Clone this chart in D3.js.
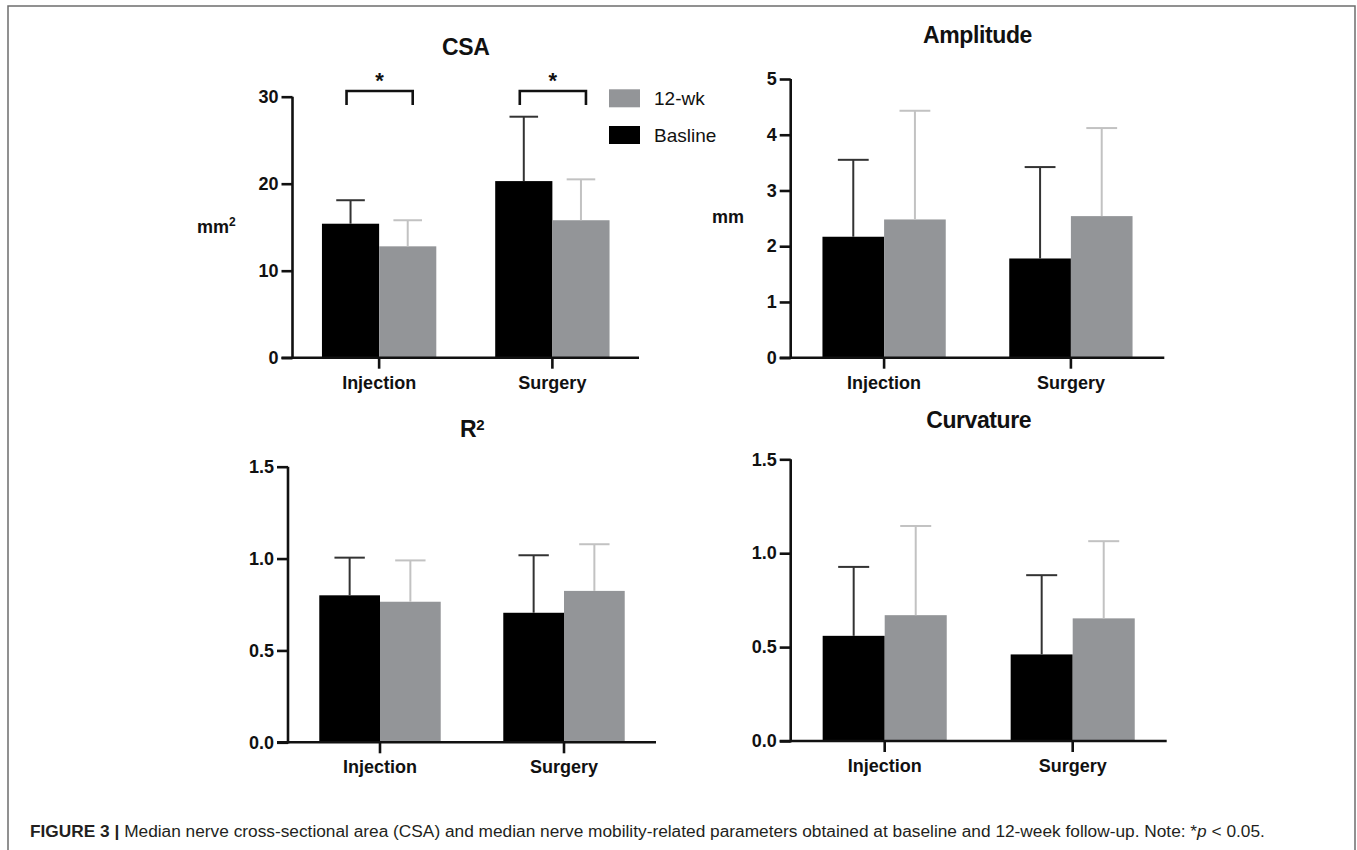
<!DOCTYPE html>
<html>
<head>
<meta charset="utf-8">
<script src="https://cdn.jsdelivr.net/npm/d3@7"></script>
<style>
  body { margin: 0; background: #fff; }
  svg { display: block; }
  text { font-family: "Liberation Sans", Arial, Helvetica, sans-serif; }
</style>
</head>
<body>
<svg width="1357" height="850"></svg>
<script>
// groups and series
var categories = ["Injection", "Surgery"];
var series = ["Basline", "12-wk"];

// values (mean and upper SD)
var csaBase = [15.4, 20.3];
var csaBaseSD = [2.7, 7.4];
var csaWk = [12.8, 15.8];
var csaWkSD = [3.0, 4.7];

var ampBase = [2.17, 1.78];
var ampBaseSD = [1.38, 1.64];
var ampWk = [2.48, 2.54];
var ampWkSD = [1.95, 1.58];

var r2Base = [0.80, 0.705];
var r2BaseSD = [0.205, 0.313];
var r2Wk = [0.765, 0.824];
var r2WkSD = [0.225, 0.254];

var curvBase = [0.56, 0.461];
var curvBaseSD = [0.367, 0.422];
var curvWk = [0.67, 0.653];
var curvWkSD = [0.475, 0.411];

var csaTicks = [0, 10, 20, 30];
var ampTicks = [0, 1, 2, 3, 4, 5];
var unitTicks = [0, 0.5, 1.0, 1.5];

var black = "#000", grey = "#939598";
var errColor = { "Basline": "#333", "12-wk": "#c2c2c2" };
var fillColor = { "Basline": black, "12-wk": grey };

var svg = d3.select("svg");

// frame
svg.append("path")
    .attr("d", "M8,870 L8,6 L1355,6 L1355,870")
    .attr("fill", "none")
    .attr("stroke", "#6d6d6d")
    .attr("stroke-width", 1.5);

var panels = [
  { title: "CSA", base: csaBase, baseSD: csaBaseSD, wk: csaWk, wkSD: csaWkSD,
    ymax: 30, ticks: csaTicks, fmt: d3.format("d"),
    x0: 292.5, x1: 639, y0: 357.7, y1: 96.7, titleY: 55,
    unit: "mm", sup: "2", unitX: 197, unitY: 233, sig: true, legend: true },
  { title: "Amplitude", base: ampBase, baseSD: ampBaseSD, wk: ampWk, wkSD: ampWkSD,
    ymax: 5, ticks: ampTicks, fmt: d3.format("d"),
    x0: 790.7, x1: 1164.3, y0: 357.7, y1: 79, titleY: 43,
    unit: "mm", sup: null, unitX: 712, unitY: 223 },
  { title: "R", titleSup: "2", base: r2Base, baseSD: r2BaseSD, wk: r2Wk, wkSD: r2WkSD,
    ymax: 1.5, ticks: unitTicks, fmt: d3.format(".1f"),
    x0: 288, x1: 656, y0: 742.3, y1: 466.7, titleY: 437 },
  { title: "Curvature", base: curvBase, baseSD: curvBaseSD, wk: curvWk, wkSD: curvWkSD,
    ymax: 1.5, ticks: unitTicks, fmt: d3.format(".1f"),
    x0: 790.7, x1: 1166.7, y0: 741, y1: 459.3, titleY: 428 }
];

panels.forEach(function (p) {
  var g = svg.append("g");

  var x = d3.scaleBand()
      .domain(categories)
      .range([p.x0, p.x1])
      .paddingInner(0.34)
      .paddingOuter(0.17);
  var xs = d3.scaleBand()
      .domain(series)
      .range([0, x.bandwidth()]);
  var y = d3.scaleLinear()
      .domain([0, p.ymax])
      .range([p.y0, p.y1]);

  var rows = [];
  categories.forEach(function (c, i) {
    rows.push({ cat: c, s: "Basline", v: p.base[i], sd: p.baseSD[i] });
    rows.push({ cat: c, s: "12-wk", v: p.wk[i], sd: p.wkSD[i] });
  });

  // bars
  g.selectAll("rect.bar")
      .data(rows)
      .enter().append("rect")
      .attr("class", "bar")
      .attr("x", function (d) { return x(d.cat) + xs(d.s); })
      .attr("width", xs.bandwidth())
      .attr("y", function (d) { return y(d.v); })
      .attr("height", function (d) { return y(0) - y(d.v); })
      .attr("fill", function (d) { return fillColor[d.s]; });

  // error bars (upper only)
  var eb = g.selectAll("g.err")
      .data(rows)
      .enter().append("g")
      .attr("class", "err")
      .attr("stroke", function (d) { return errColor[d.s]; })
      .attr("stroke-width", 2);
  eb.append("line")
      .attr("x1", function (d) { return x(d.cat) + xs(d.s) + xs.bandwidth() / 2; })
      .attr("x2", function (d) { return x(d.cat) + xs(d.s) + xs.bandwidth() / 2; })
      .attr("y1", function (d) { return y(d.v); })
      .attr("y2", function (d) { return y(d.v + d.sd); });
  eb.append("line")
      .attr("x1", function (d) { return x(d.cat) + xs(d.s) + xs.bandwidth() / 4; })
      .attr("x2", function (d) { return x(d.cat) + xs(d.s) + xs.bandwidth() * 3 / 4; })
      .attr("y1", function (d) { return y(d.v + d.sd); })
      .attr("y2", function (d) { return y(d.v + d.sd); });

  // axes
  var yAxis = g.append("g")
      .attr("transform", "translate(" + p.x0 + ",0)")
      .call(d3.axisLeft(y).tickValues(p.ticks).tickFormat(p.fmt)
          .tickSize(11).tickSizeOuter(0).tickPadding(3));
  var xAxis = g.append("g")
      .attr("transform", "translate(0," + p.y0 + ")")
      .call(d3.axisBottom(x).tickSize(11).tickSizeOuter(0).tickPadding(8));

  [yAxis, xAxis].forEach(function (a) {
    a.select(".domain").attr("stroke", "#111").attr("stroke-width", 2.6);
    a.selectAll(".tick line").attr("stroke", "#111").attr("stroke-width", 2.6);
    a.selectAll(".tick text")
        .attr("fill", "#111")
        .style("font-size", "18px")
        .style("font-weight", "bold");
  });
  yAxis.select(".domain").attr("d", "M0," + (p.y0 + 1.3) + "V" + p.y1);
  xAxis.select(".domain").attr("d", "M" + (p.x0 - 11) + ",0H" + p.x1);
  xAxis.selectAll(".tick text").attr("dy", null).attr("y", 31);

  // title
  var t = g.append("text")
      .attr("x", (p.x0 + p.x1) / 2)
      .attr("y", p.titleY)
      .attr("text-anchor", "middle")
      .style("font-size", "23px")
      .style("font-weight", "bold")
      .style("letter-spacing", "-0.4px")
      .attr("fill", "#111")
      .text(p.title);
  if (p.titleSup) {
    t.append("tspan")
        .attr("dy", "-0.5em")
        .style("font-size", "15px")
        .text(p.titleSup);
  }

  // unit label
  if (p.unit) {
    var u = g.append("text")
        .attr("x", p.unitX)
        .attr("y", p.unitY)
        .style("font-size", "18px")
        .style("font-weight", "bold")
        .attr("fill", "#111")
        .text(p.unit);
    if (p.sup) {
      u.append("tspan")
          .attr("dy", "-0.55em")
          .style("font-size", "12px")
          .text(p.sup);
    }
  }

  // significance brackets
  if (p.sig) {
    categories.forEach(function (c) {
      var xa = x(c) + xs("Basline") + xs.bandwidth() / 2 - 4;
      var xb = x(c) + xs("12-wk") + xs.bandwidth() / 2 + 5;
      g.append("path")
          .attr("d", "M" + xa + ",105V91H" + xb + "V105")
          .attr("fill", "none")
          .attr("stroke", "#111")
          .attr("stroke-width", 2.6);
      g.append("text")
          .attr("x", (xa + xb) / 2)
          .attr("y", 88)
          .attr("text-anchor", "middle")
          .style("font-size", "22px")
          .style("font-weight", "bold")
          .attr("fill", "#111")
          .text("*");
    });
  }

  // legend
  if (p.legend) {
    var leg = g.selectAll("g.leg")
        .data(series.slice().reverse())
        .enter().append("g")
        .attr("class", "leg")
        .attr("transform", function (d, i) { return "translate(609," + (89.3 + i * 36.7) + ")"; });
    leg.append("rect")
        .attr("width", 31)
        .attr("height", 18)
        .attr("fill", function (d) { return fillColor[d]; });
    leg.append("text")
        .attr("x", 45)
        .attr("y", 9)
        .attr("dy", "0.35em")
        .style("font-size", "19px")
        .attr("fill", "#111")
        .text(function (d) { return d; });
  }
});

// caption
var cap = svg.append("text")
    .attr("x", 30)
    .attr("y", 837)
    .style("font-size", "17.3px")
    .attr("fill", "#231f20");
cap.append("tspan").style("font-weight", "bold").text("FIGURE 3 | ");
cap.append("tspan").text("Median nerve cross-sectional area (CSA) and median nerve mobility-related parameters obtained at baseline and 12-week follow-up. Note: *");
cap.append("tspan").style("font-style", "italic").text("p");
cap.append("tspan").text(" < 0.05.");
</script>
</body>
</html>
